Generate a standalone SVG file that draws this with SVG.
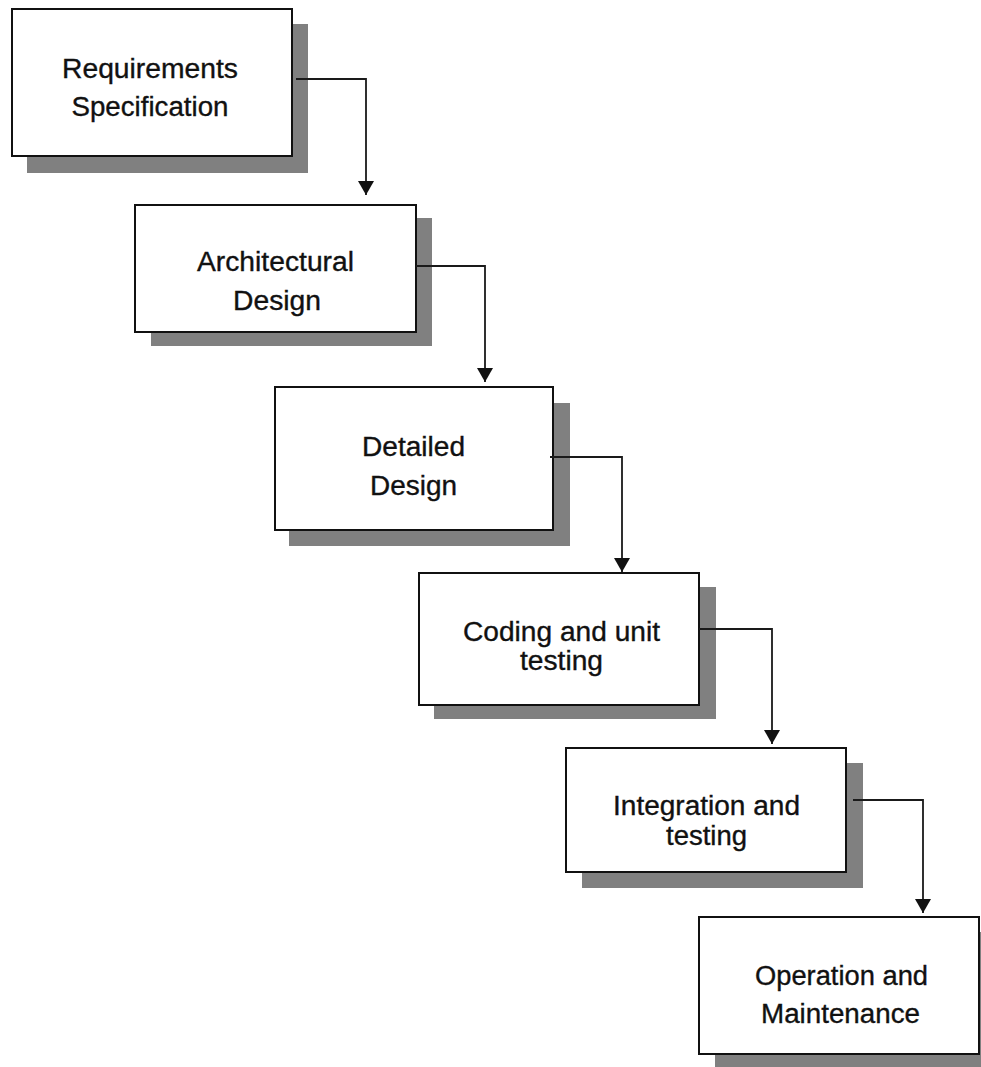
<svg xmlns="http://www.w3.org/2000/svg" width="981" height="1067" viewBox="0 0 981 1067">
<style>
.bg{fill:#ffffff}
.shadow{fill:#808080}
.box{fill:#ffffff;stroke:#111111;stroke-width:2}
.lbl{font-family:"Liberation Sans",Arial,sans-serif;font-size:27px;fill:#111111;stroke:#111111;stroke-width:0.35;text-anchor:middle}
.conn{fill:none;stroke:#1a1a1a;stroke-width:1.8}
</style>
<defs>
<marker id="arr" markerUnits="userSpaceOnUse" markerWidth="16" markerHeight="16" refX="14" refY="8" orient="auto">
<path d="M0,0 L14,8 L0,16 Z" fill="#111111"/>
</marker>
</defs>
<rect class="bg" x="0" y="0" width="981" height="1067"/>
<g id="node-requirements">
<rect class="shadow" x="27" y="24" width="281" height="149"/>
<rect class="box" x="12" y="9" width="280" height="147"/>
<text class="lbl" x="150" y="78" textLength="176" lengthAdjust="spacingAndGlyphs">Requirements</text>
<text class="lbl" x="150" y="116" textLength="157" lengthAdjust="spacingAndGlyphs">Specification</text>
</g>
<g id="node-architectural">
<rect class="shadow" x="151" y="218" width="281" height="128"/>
<rect class="box" x="135" y="205" width="281" height="127"/>
<text class="lbl" x="275.5" y="271" textLength="157" lengthAdjust="spacingAndGlyphs">Architectural</text>
<text class="lbl" x="277" y="310" textLength="88" lengthAdjust="spacingAndGlyphs">Design</text>
</g>
<g id="node-detailed">
<rect class="shadow" x="289" y="403" width="281" height="143"/>
<rect class="box" x="275" y="387" width="278" height="143"/>
<text class="lbl" x="413.5" y="456" textLength="103" lengthAdjust="spacingAndGlyphs">Detailed</text>
<text class="lbl" x="413.5" y="495" textLength="87" lengthAdjust="spacingAndGlyphs">Design</text>
</g>
<g id="node-coding">
<rect class="shadow" x="434" y="587" width="282" height="132"/>
<rect class="box" x="419" y="573" width="280" height="132"/>
<text class="lbl" x="561.5" y="641" textLength="197" lengthAdjust="spacingAndGlyphs">Coding and unit</text>
<text class="lbl" x="561.5" y="670" textLength="83" lengthAdjust="spacingAndGlyphs">testing</text>
</g>
<g id="node-integration">
<rect class="shadow" x="582" y="763" width="281" height="125"/>
<rect class="box" x="566" y="748" width="280" height="124"/>
<text class="lbl" x="706.5" y="815" textLength="187" lengthAdjust="spacingAndGlyphs">Integration and</text>
<text class="lbl" x="706.5" y="845" textLength="81" lengthAdjust="spacingAndGlyphs">testing</text>
</g>
<g id="node-operation">
<rect class="shadow" x="715" y="932" width="281" height="140"/>
<rect class="box" x="699" y="917" width="280" height="137"/>
<text class="lbl" x="841.5" y="985" textLength="173" lengthAdjust="spacingAndGlyphs">Operation and</text>
<text class="lbl" x="840.5" y="1023" textLength="159" lengthAdjust="spacingAndGlyphs">Maintenance</text>
</g>
<g id="connectors">
<path class="conn" d="M296,79 H366 V195" marker-end="url(#arr)"/>
<path class="conn" d="M416,266 H485 V382" marker-end="url(#arr)"/>
<path class="conn" d="M550,457 H622 V572" marker-end="url(#arr)"/>
<path class="conn" d="M699,629 H772 V744" marker-end="url(#arr)"/>
<path class="conn" d="M853,800 H923 V913" marker-end="url(#arr)"/>
</g>
</svg>
